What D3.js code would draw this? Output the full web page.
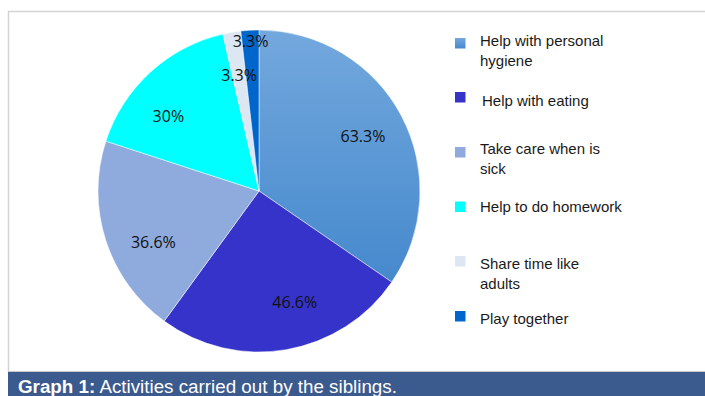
<!DOCTYPE html>
<html>
<head>
<meta charset="utf-8">
<script src="https://cdn.jsdelivr.net/npm/d3@7"></script>
<style>
html,body{margin:0;padding:0;background:#fff;}
svg{display:block;}
</style>
</head>
<body>
<svg id="chart" width="705" height="396"></svg>
<script>
const categories = ["Help with personal hygiene","Help with eating","Take care when is sick","Help to do homework","Share time like adults","Play together"];
const legendLines = [["Help with personal","hygiene"],["Help with eating"],["Take care when is","sick"],["Help to do homework"],["Share time like","adults"],["Play together"]];
const values = [63.3, 46.6, 36.6, 30, 3.3, 3.3];
const valueLabels = ["63.3%","46.6%","36.6%","30%","3.3%","3.3%"];
const colors = ["url(#g0)","#3533c9","#8faadc","#00ffff","#dde7f3","#0066cc"];
const captionBold = "Graph 1:";
const captionText = " Activities carried out by the siblings.";

const svg = d3.select("#chart");
const W = 705, H = 396;

const defs = svg.append("defs");
const grad = defs.append("linearGradient").attr("id","g0").attr("x1",0).attr("y1",0).attr("x2",0).attr("y2",1);
grad.append("stop").attr("offset","0%").attr("stop-color","#73a8dd");
grad.append("stop").attr("offset","100%").attr("stop-color","#4589cd");

// frame
svg.append("path").attr("d",`M${W},11.5 H8.5 V372`).attr("fill","none").attr("stroke","#d4d4d4").attr("stroke-width",1.5);
svg.append("line").attr("x1",8).attr("x2",W).attr("y1",371.5).attr("y2",371.5).attr("stroke","#c8c8c8").attr("stroke-width",1);

// caption bar
svg.append("rect").attr("x",8).attr("y",372).attr("width",W-8).attr("height",H-372).attr("fill","#3b5a8e");
const cap = svg.append("text").attr("x",18).attr("y",392.5).attr("fill","#fff")
  .attr("font-family","Liberation Sans, Arial, sans-serif").attr("font-size",18.8);
cap.append("tspan").attr("font-weight","bold").text(captionBold);
cap.append("tspan").text(captionText);

// pie
const cx = 259, cy = 191, r = 161;
const pie = d3.pie().sort(null).value(d => d)(values);
const arc = d3.arc().innerRadius(0).outerRadius(r);
const g = svg.append("g").attr("transform",`translate(${cx},${cy})`);
g.selectAll("path.slice").data(pie).join("path").attr("class","slice")
  .attr("d",arc).attr("fill",(d,i)=>colors[i])
  .attr("stroke","#fff").attr("stroke-width",0.5);

const shift = -8 * Math.PI/180;
g.selectAll("text.lbl").data(pie).join("text").attr("class","lbl")
  .each(function(d,i){
    const span = d.endAngle - d.startAngle;
    const small = span < 0.2;
    const mid = (d.startAngle + d.endAngle)/2 + (small || span > 2 ? 0 : shift);
    const rr = (small && i === pie.length-1) ? 0.93*r : 0.73*r;
    d3.select(this).attr("x", rr*Math.sin(mid)).attr("y", -rr*Math.cos(mid) + 5.5);
  })
  .attr("text-anchor","middle")
  .attr("font-family","Open Sans, Noto Sans, sans-serif").attr("font-size",16)
  .attr("fill","#111")
  .text((d,i)=>valueLabels[i]);

// legend
const legendY = [38, 92, 147, 201.5, 256, 311];
const legendBase = [45.7, 105.7, 154, 211.7, 269, 324.3];
const lg = svg.append("g");
legendLines.forEach((lines,i)=>{
  const y0 = legendY[i];
  const tx = i===1 ? 482 : 480;
  lg.append("rect").attr("x",455).attr("y",y0).attr("width",10.5).attr("height",10.5).attr("fill",colors[i]);
  const t = lg.append("text").attr("x", tx).attr("y", legendBase[i])
    .attr("font-family","Liberation Sans, Arial, sans-serif").attr("font-size",15).attr("fill","#1a1a1a");
  lines.forEach((ln,j)=>{
    t.append("tspan").attr("x", tx).attr("dy", j===0?0:20).text(ln);
  });
});
</script>
</body>
</html>
